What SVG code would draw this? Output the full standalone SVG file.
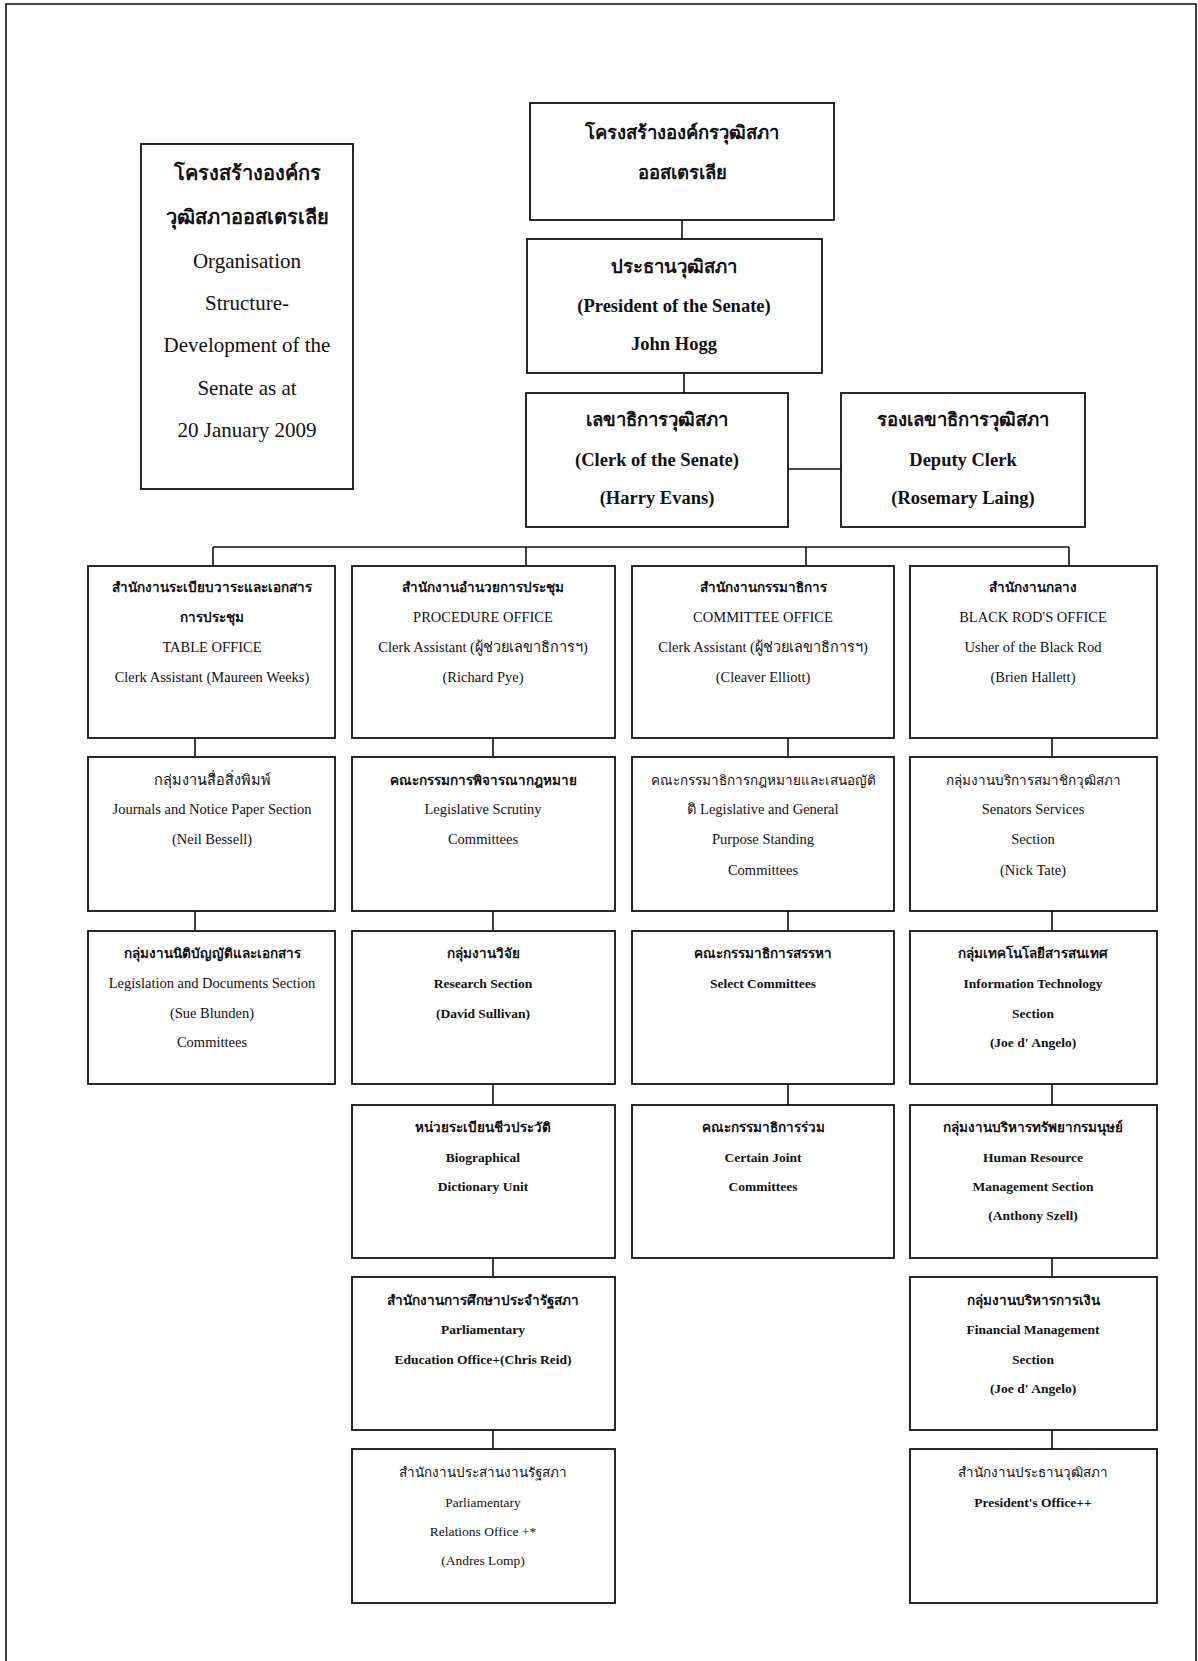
<svg xmlns="http://www.w3.org/2000/svg" width="1198" height="1661" viewBox="0 0 1198 1661">
<style>
.box{fill:#fff;stroke:#111;stroke-width:1.8}
.ln{stroke:#111;stroke-width:1.6;fill:none}
text{font-family:"Liberation Serif","Times New Roman",serif;fill:#111;text-anchor:middle}
.tt{font-size:21px}
.tb{font-size:20px;font-weight:bold}
.hd{font-size:18.5px;font-weight:bold}
.s{font-size:14.5px}
.th{font-size:13.5px}
.sb{font-size:13.5px;font-weight:bold}
</style>
<rect width="1198" height="1661" fill="#fff"/>
<path class="ln" d="M6,1661 V4 H1196 V1661" stroke-width="2"/>

<g id="connectors">
<path class="ln" d="M682,220 V239"/>
<path class="ln" d="M684,373 V393"/>
<path class="ln" d="M788,469 H841"/>
<path class="ln" d="M213,547 H1069"/>
<path class="ln" d="M213,547 V566"/>
<path class="ln" d="M526,547 V566"/>
<path class="ln" d="M806,547 V566"/>
<path class="ln" d="M1069,547 V566"/>
<path class="ln" d="M195,738 V757 M195,911 V931"/>
<path class="ln" d="M493,738 V757 M493,911 V931 M493,1084 V1105 M493,1258 V1277 M493,1430 V1449"/>
<path class="ln" d="M788,738 V757 M788,911 V931 M788,1084 V1105"/>
<path class="ln" d="M1052,738 V757 M1052,911 V931 M1052,1084 V1105 M1052,1258 V1277 M1052,1430 V1449"/>
</g>

<g id="title">
<rect class="box" x="141" y="144" width="212" height="345"/>
<text class="tb" x="247" y="180">โครงสร้างองค์กร</text>
<text class="tb" x="247" y="224">วุฒิสภาออสเตรเลีย</text>
<text class="tt" x="247" y="268">Organisation</text>
<text class="tt" x="247" y="310">Structure-</text>
<text class="tt" x="247" y="352">Development of the</text>
<text class="tt" x="247" y="395">Senate as at</text>
<text class="tt" x="247" y="437">20 January 2009</text>
</g>

<g id="top">
<rect class="box" x="530" y="103" width="304" height="117"/>
<text class="hd" x="682" y="139" font-size="21">โครงสร้างองค์กรวุฒิสภา</text>
<text class="hd" x="682" y="179" font-size="19">ออสเตรเลีย</text>
</g>

<g id="president">
<rect class="box" x="527" y="239" width="295" height="134"/>
<text class="hd" x="674" y="273" font-size="19">ประธานวุฒิสภา</text>
<text class="hd" x="674" y="312">(President of the Senate)</text>
<text class="hd" x="674" y="350">John Hogg</text>
</g>

<g id="clerk">
<rect class="box" x="526" y="393" width="262" height="134"/>
<text class="hd" x="657" y="426" font-size="19">เลขาธิการวุฒิสภา</text>
<text class="hd" x="657" y="466">(Clerk of the Senate)</text>
<text class="hd" x="657" y="504">(Harry Evans)</text>
</g>

<g id="deputy">
<rect class="box" x="841" y="393" width="244" height="134"/>
<text class="hd" x="963" y="426" font-size="19">รองเลขาธิการวุฒิสภา</text>
<text class="hd" x="963" y="466">Deputy Clerk</text>
<text class="hd" x="963" y="504">(Rosemary Laing)</text>
</g>

<g id="table-office">
<rect class="box" x="88" y="566" width="247" height="172"/>
<text class="sb" x="212" y="592">สำนักงานระเบียบวาระและเอกสาร</text>
<text class="sb" x="212" y="622">การประชุม</text>
<text class="s" x="212" y="652">TABLE OFFICE</text>
<text class="s" x="212" y="682">Clerk Assistant (Maureen Weeks)</text>
</g>

<g id="procedure-office">
<rect class="box" x="352" y="566" width="263" height="172"/>
<text class="sb" x="483" y="592">สำนักงานอำนวยการประชุม</text>
<text class="s" x="483" y="622">PROCEDURE OFFICE</text>
<text class="s" x="483" y="652">Clerk Assistant (ผู้ช่วยเลขาธิการฯ)</text>
<text class="s" x="483" y="682">(Richard Pye)</text>
</g>

<g id="committee-office">
<rect class="box" x="632" y="566" width="262" height="172"/>
<text class="sb" x="763" y="592">สำนักงานกรรมาธิการ</text>
<text class="s" x="763" y="622">COMMITTEE OFFICE</text>
<text class="s" x="763" y="652">Clerk Assistant (ผู้ช่วยเลขาธิการฯ)</text>
<text class="s" x="763" y="682">(Cleaver Elliott)</text>
</g>

<g id="black-rod-office">
<rect class="box" x="910" y="566" width="247" height="172"/>
<text class="sb" x="1033" y="592">สำนักงานกลาง</text>
<text class="s" x="1033" y="622">BLACK ROD'S OFFICE</text>
<text class="s" x="1033" y="652">Usher of the Black Rod</text>
<text class="s" x="1033" y="682">(Brien Hallett)</text>
</g>

<g id="journals">
<rect class="box" x="88" y="757" width="247" height="154"/>
<text class="s" x="212" y="785">กลุ่มงานสื่อสิ่งพิมพ์</text>
<text class="s" x="212" y="814" font-size="12">Journals and Notice Paper Section</text>
<text class="s" x="212" y="844">(Neil Bessell)</text>
</g>

<g id="legislative-scrutiny">
<rect class="box" x="352" y="757" width="263" height="154"/>
<text class="sb" x="483" y="785">คณะกรรมการพิจารณากฎหมาย</text>
<text class="s" x="483" y="814">Legislative Scrutiny</text>
<text class="s" x="483" y="844">Committees</text>
</g>

<g id="legislative-general">
<rect class="box" x="632" y="757" width="262" height="154"/>
<text class="th" x="763" y="785">คณะกรรมาธิการกฎหมายและเสนอญัติ</text>
<text class="s" x="763" y="814">ติ Legislative and General</text>
<text class="s" x="763" y="844">Purpose Standing</text>
<text class="s" x="763" y="875">Committees</text>
</g>

<g id="senators-services">
<rect class="box" x="910" y="757" width="247" height="154"/>
<text class="th" x="1033" y="785">กลุ่มงานบริการสมาชิกวุฒิสภา</text>
<text class="s" x="1033" y="814">Senators Services</text>
<text class="s" x="1033" y="844">Section</text>
<text class="s" x="1033" y="875">(Nick Tate)</text>
</g>

<g id="legislation-documents">
<rect class="box" x="88" y="931" width="247" height="153"/>
<text class="sb" x="212" y="958">กลุ่มงานนิติบัญญัติและเอกสาร</text>
<text class="s" x="212" y="988">Legislation and Documents Section</text>
<text class="s" x="212" y="1018">(Sue Blunden)</text>
<text class="s" x="212" y="1047">Committees</text>
</g>

<g id="research">
<rect class="box" x="352" y="931" width="263" height="153"/>
<text class="sb" x="483" y="958">กลุ่มงานวิจัย</text>
<text class="sb" x="483" y="988">Research Section</text>
<text class="sb" x="483" y="1018">(David Sullivan)</text>
</g>

<g id="select-committees">
<rect class="box" x="632" y="931" width="262" height="153"/>
<text class="sb" x="763" y="958">คณะกรรมาธิการสรรหา</text>
<text class="sb" x="763" y="988">Select Committees</text>
</g>

<g id="information-technology">
<rect class="box" x="910" y="931" width="247" height="153"/>
<text class="sb" x="1033" y="958">กลุ่มเทคโนโลยีสารสนเทศ</text>
<text class="sb" x="1033" y="988">Information Technology</text>
<text class="sb" x="1033" y="1018">Section</text>
<text class="sb" x="1033" y="1047">(Joe d' Angelo)</text>
</g>

<g id="biographical">
<rect class="box" x="352" y="1105" width="263" height="153"/>
<text class="sb" x="483" y="1132">หน่วยระเบียนชีวประวัติ</text>
<text class="sb" x="483" y="1162">Biographical</text>
<text class="sb" x="483" y="1191">Dictionary Unit</text>
</g>

<g id="joint-committees">
<rect class="box" x="632" y="1105" width="262" height="153"/>
<text class="sb" x="763" y="1132">คณะกรรมาธิการร่วม</text>
<text class="sb" x="763" y="1162">Certain Joint</text>
<text class="sb" x="763" y="1191">Committees</text>
</g>

<g id="human-resource">
<rect class="box" x="910" y="1105" width="247" height="153"/>
<text class="sb" x="1033" y="1132">กลุ่มงานบริหารทรัพยากรมนุษย์</text>
<text class="sb" x="1033" y="1162">Human Resource</text>
<text class="sb" x="1033" y="1191">Management Section</text>
<text class="sb" x="1033" y="1220">(Anthony Szell)</text>
</g>

<g id="education-office">
<rect class="box" x="352" y="1277" width="263" height="153"/>
<text class="sb" x="483" y="1305">สำนักงานการศึกษาประจำรัฐสภา</text>
<text class="sb" x="483" y="1334">Parliamentary</text>
<text class="sb" x="483" y="1364">Education Office+(Chris Reid)</text>
</g>

<g id="financial-management">
<rect class="box" x="910" y="1277" width="247" height="153"/>
<text class="sb" x="1033" y="1305">กลุ่มงานบริหารการเงิน</text>
<text class="sb" x="1033" y="1334">Financial Management</text>
<text class="sb" x="1033" y="1364">Section</text>
<text class="sb" x="1033" y="1393">(Joe d' Angelo)</text>
</g>

<g id="relations-office">
<rect class="box" x="352" y="1449" width="263" height="154"/>
<text class="th" x="483" y="1477">สำนักงานประสานงานรัฐสภา</text>
<text class="th" x="483" y="1507">Parliamentary</text>
<text class="th" x="483" y="1536">Relations Office +*</text>
<text class="th" x="483" y="1565">(Andres Lomp)</text>
</g>

<g id="presidents-office">
<rect class="box" x="910" y="1449" width="247" height="154"/>
<text class="th" x="1033" y="1477">สำนักงานประธานวุฒิสภา</text>
<text class="sb" x="1033" y="1507">President's Office++</text>
</g>
</svg>
